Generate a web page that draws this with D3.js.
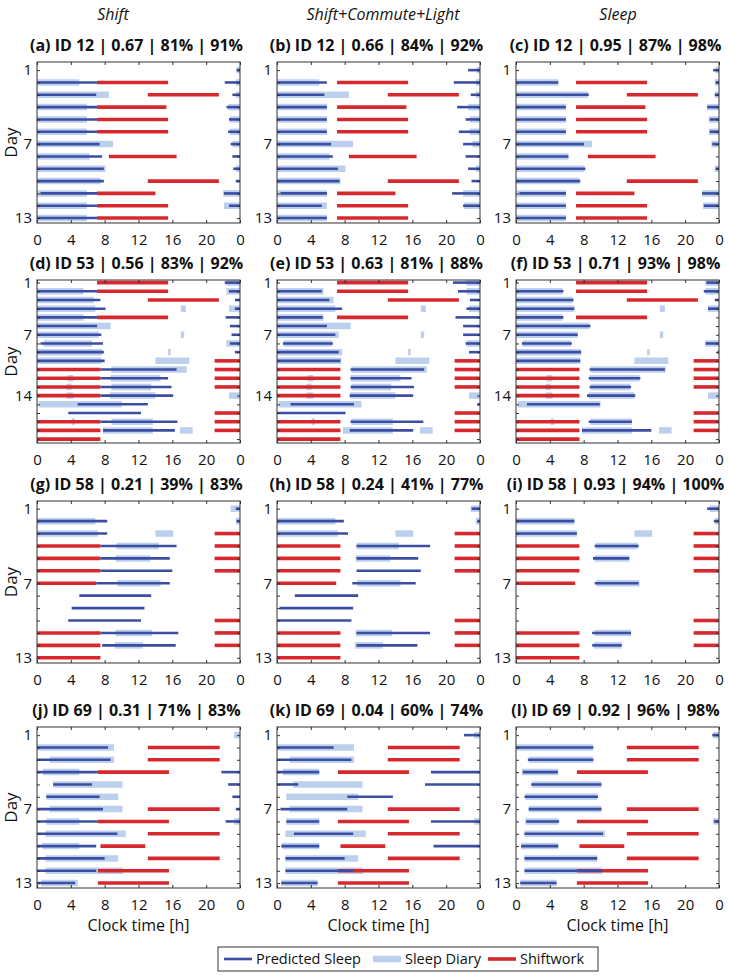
<!DOCTYPE html>
<html>
<head>
<meta charset="utf-8">
<script src="https://cdn.jsdelivr.net/npm/d3@7"></script>
<style>
body{margin:0;background:#fff;}
text{font-family:"Open Sans",Arial,sans-serif;fill:#111;}
</style>
</head>
<body>
<svg id="chart" width="729" height="979"></svg>
<script>
// sleep / shift intervals in clock hours, one entry per day
var diary12 = [
	[[23.6,24]], [[0,5.0],[23.5,24]], [[0,8.5],[23.5,24]], [[0,5.9],[22.6,24]],
	[[0,5.9],[22.8,24]], [[0,5.9],[22.8,24]], [[0,9.0],[23.1,24]], [[0,6.2]],
	[[0,8.1],[23.5,24]], [[0,7.5]], [[0,5.9],[22.0,24]], [[0,5.9],[22.1,24]], [[0,5.9]]
];
var shift12 = [
	[], [[7.1,15.5]], [[13.1,21.5]], [[7.1,15.3]], [[7.1,15.5]], [[7.1,15.5]], [],
	[[8.5,16.5]], [], [[13.1,21.5]], [[7.1,14.0]], [[7.1,15.5]], [[7.1,15.5]]
];
var predA = [
	[[23.6,24]], [[0,7.1],[22.2,24]], [[0,7.0],[23.1,24]], [[0,7.1],[22.4,24]],
	[[0,7.1],[22.7,24]], [[0,7.1],[22.6,24]], [[0,7.4],[22.9,24]], [[0,7.7],[23.1,24]],
	[[0,7.9],[23.2,24]], [[0,7.9],[23.5,24]], [[0.4,7.1],[22.1,24]], [[0,7.1],[22.7,24]], [[0,7.1]]
];
var predB = [
	[[22.6,24]], [[0,5.9],[20.9,24]], [[0,5.6],[22.9,24]], [[0,5.9],[21.3,24]],
	[[0,5.9],[22.3,24]], [[0,5.9],[21.5,24]], [[0,6.4],[22.0,24]], [[0,6.6],[22.3,24]],
	[[0,7.2],[22.6,24]], [[0,7.4],[23.0,24]], [[0.4,5.9],[20.7,24]], [[0,5.3],[22.0,24]], [[0,5.9]]
];
var predC = [
	[[23.3,24]], [[0,5.0],[23.6,24]], [[0,8.6],[23.5,24]], [[0,5.9],[22.6,24]],
	[[0,5.9],[22.9,24]], [[0,5.9],[22.9,24]], [[0,8.05],[23.2,24]], [[0,6.2]],
	[[0,8.2],[23.6,24]], [[0,7.6]], [[0.4,5.9],[22.0,24]], [[0,5.9],[22.2,24]], [[0,5.9]]
];

var diary53 = [
	[[22.4,24]], [[0,5.5],[22.4,24]], [[0,6.7]], [[0,6.9],[17.0,17.6],[22.7,24]],
	[[0,5.5]], [[0,8.7]], [[0,7.3],[17.0,17.4]], [[0.8,6.5],[22.4,24]],
	[[0,7.7],[15.5,15.8]], [[0,7.6],[14.0,18.0]], [[8.8,17.7]], [[3.6,4.3],[8.7,14.6]],
	[[3.5,4.1],[8.8,13.5]], [[3.5,4.3],[8.6,14.0],[22.7,24]], [[0.2,10.0]], [],
	[[4.1,4.5],[8.8,13.7]], [[7.8,13.7],[16.9,18.4]], []
];
var shift53 = [
	[[7.1,15.5]], [[7.1,15.5]], [[13.1,21.5]], [], [[7.1,15.5]], [], [], [], [],
	[[21,24]], [[0,7.5],[21,24]], [[0,7.5],[21,24]], [[0,7.5],[21,24]], [[0,7.5]], [],
	[[21,24]], [[0,7.5],[21,24]], [[0,7.5],[21,24]], [[0,7.5]]
];
var predD = [
	[[22.2,24]], [[0,7.1],[22.7,24]], [[0,7.5],[23.4,24]], [[0,8.1],[23.4,24]],
	[[0,7.1],[22.3,24]], [[0,7.1],[22.8,24]], [[0,7.6],[23.0,24]], [[0.4,7.8],[22.8,24]],
	[[0,7.9],[23.4,24]], [[0,8.0]], [[7.5,16.5]], [[7.5,15.5]], [[7.5,15.9]], [[7.5,16.1]],
	[[4.8,13.1]], [[3.7,12.3]], [[7.5,16.6]], [[7.8,16.3]], []
];
var predE = [
	[[20.8,24]], [[0,5.3],[21.4,24]], [[0,6.2],[22.8,24]], [[0,7.7],[22.4,24]],
	[[0,5.4],[21.1,24]], [[0,5.9],[22.0,24]], [[0,6.9],[22.0,24]], [[0.7,6.6],[22.3,24]],
	[[0,7.3],[22.7,24]], [[0,7.5]], [[8.7,17.4]], [[8.7,15.9]], [[8.7,16.2]], [[8.6,16.1]],
	[[1.6,9.1],[23.7,24]], [[0,8.1]], [[8.7,17.3]], [[8.6,16.1]], []
];
var predF = [
	[[22.5,24]], [[0,5.6],[22.2,24]], [[0,6.8],[23.5,24]], [[0,6.9],[22.7,24]],
	[[0,5.6]], [[0,8.8]], [[0,7.3]], [[0.7,6.6],[22.4,24]], [[0,7.7],[23.8,24]],
	[[0,7.6]], [[8.7,17.6]], [[8.6,14.7]], [[8.7,13.6]], [[8.4,14.1]], [[1.3,9.9]], [],
	[[8.6,13.7]], [[7.8,16.0]], []
];

var diary58 = [
	[[22.9,24]], [[0,6.9],[23.5,24]], [[0,7.2],[14.0,16.1]], [[9.4,14.4]], [[9.3,13.4]], [],
	[[9.5,14.6]], [], [], [], [[9.3,13.6]], [[9.2,12.5]], []
];
var shift58 = [
	[], [], [[21,24]], [[0,7.5],[21,24]], [[0,7.5],[21,24]], [[0,7.5],[21,24]], [[0,7.0]],
	[], [], [[21,24]], [[0,7.5],[21,24]], [[0,7.5],[21,24]], [[0,7.5]]
];
var predG = [
	[[23.5,24]], [[0,8.3],[23.6,24]], [[0,8.3]], [[7.5,16.5]], [[7.5,15.7]], [[7.5,16.0]],
	[[7.0,15.7]], [[5.0,13.5]], [[4.1,12.7]], [[3.7,12.3]], [[7.5,16.7]], [[7.7,16.4]], []
];
var predH = [
	[[23.0,24]], [[0,7.9],[23.7,24]], [[0,8.4]], [[9.4,18.1]], [[9.4,16.7]], [[9.4,17.0]],
	[[8.9,16.4]], [[2.1,9.6]], [[0.3,9.0]], [[0,8.8]], [[9.4,18.1]], [[9.4,16.6]], []
];
var predI = [
	[[22.6,24]], [[0,6.9],[23.4,24]], [[0,7.2]], [[9.3,14.5]], [[9.1,13.4]], [],
	[[9.3,14.5]], [], [], [], [[9.0,13.6]], [[9.0,12.5]], []
];

var diary69 = [
	[[23.3,24]], [[0,9.1]], [[1.5,9.1]], [[0.7,5.0]], [[1.9,10.1]], [[1.1,9.6]],
	[[1.5,10.1]], [[1.1,5.0],[23.3,24]], [[1.0,10.5]], [[0.6,5.0]], [[1.0,9.6]],
	[[1.0,10.2]], [[0.5,4.8]]
];
var shift69 = [
	[], [[13.1,21.6]], [[13.1,21.6]], [[7.2,15.6]], [], [], [[13.1,21.6]], [[7.2,15.6]],
	[[13.1,21.6]], [[7.5,12.8]], [[13.1,21.6]], [[7.2,15.6]], [[7.2,15.6]]
];
var predJ = [
	[], [[0,8.4]], [[0,8.7]], [[0,7.2],[21.8,24]], [[1.9,6.5],[22.6,24]], [[1.1,7.4],[23.1,24]],
	[[0,7.8],[23.5,24]], [[0,7.2],[22.3,24]], [[0,9.5]], [[0,7.0]], [[0,8.0]], [[0,7.0]], [[0,4.5]]
];
var predK = [
	[[22.1,24]], [[0,6.7]], [[0,8.8]], [[0,5.0],[18.2,24]], [[0,2.5],[17.5,24]], [[8.3,13.7]],
	[[0.4,8.3]], [[1.1,5.0],[18.2,24]], [[2.0,9.0]], [[0.5,5.0],[18.5,24]], [[1.0,8.0]],
	[[1.0,9.0]], [[0.5,4.8]]
];
var predL = [
	[[23.2,24]], [[0,9.15]], [[1.4,9.15]], [[0.8,4.95]], [[1.8,10.1]], [[1.0,9.7]],
	[[1.5,10.1]], [[1.2,5.1],[23.4,24]], [[1.0,10.3]], [[0.6,5.0]], [[1.0,9.6]],
	[[1.0,10.2]], [[0.5,4.8]]
];

var panelLabels = ['(a)','(b)','(c)','(d)','(e)','(f)','(g)','(h)','(i)','(j)','(k)','(l)'];
var subjectIds = [12, 53, 58, 69];
var corrValues = ['0.67','0.66','0.95','0.56','0.63','0.71','0.21','0.24','0.93','0.31','0.04','0.92'];
var accValues = ['81%','84%','87%','83%','81%','93%','39%','41%','94%','71%','60%','96%'];
var acc2Values = ['91%','92%','98%','92%','88%','98%','83%','77%','100%','83%','74%','98%'];
var modelNames = ['Shift', 'Shift+Commute+Light', 'Sleep'];
var dayLabels = [[1,7,13],[1,7,14],[1,7,13],[1,7,13]];
var hourTicks = [0,4,8,12,16,20,24];
var legendNames = ['Predicted Sleep', 'Sleep Diary', 'Shiftwork'];

var predAll = [predA,predB,predC,predD,predE,predF,predG,predH,predI,predJ,predK,predL],
	diaryAll = [diary12, diary53, diary58, diary69],
	shiftAll = [shift12, shift53, shift58, shift69];

var colLeft = [37, 277, 516],
	plotW = 203,
	rowTop = [62, 280, 501, 727],
	rowBottom = [223, 443, 663, 888],
	padTop = [0.66, 0.3, 0.62, 0.66],
	padBot = [0.4, 0.45, 0.42, 0.4],
	colTitleX = [113, 383, 618],
	colors = {pred:'#3b4ea3', diary:'#bccfec', shift:'#d7282d'};

var svg = d3.select('#chart');

svg.selectAll('.model')
	.data(modelNames)
	.enter()
	.append('text')
	.attr('x', function(d,i){ return colTitleX[i]; })
	.attr('y', 20)
	.attr('text-anchor','middle')
	.style('font-size','16px')
	.style('font-style','italic')
	.text(function(d){ return d; });

function segments(list){
	var out = [];
	list.forEach(function(day, i){
		day.forEach(function(iv){
			out.push({day:i+1, a:iv[0], b:iv[1]});
		});
	});
	return out;
}

function drawPanel(k){
	var row = Math.floor(k/3), col = k%3,
		pred = predAll[k], diary = diaryAll[row], shift = shiftAll[row],
		n = diary.length,
		left = colLeft[col], right = left + plotW,
		top = rowTop[row], bottom = rowBottom[row];

	var x = d3.scaleLinear().domain([0,24]).range([left, right]),
		y = d3.scaleLinear().domain([1 - padTop[row], n + padBot[row]]).range([top, bottom]);

	var g = svg.append('g');

	g.append('clipPath').attr('id','clip'+k)
		.append('rect').attr('x',left).attr('y',top).attr('width',plotW).attr('height',bottom-top);

	var marks = g.append('g').attr('clip-path','url(#clip'+k+')');

	function layer(data, color, width){
		marks.append('g').selectAll('line')
			.data(segments(data))
			.enter()
			.append('line')
			.attr('x1', function(d){ return x(d.a); })
			.attr('x2', function(d){ return x(d.b); })
			.attr('y1', function(d){ return y(d.day); })
			.attr('y2', function(d){ return y(d.day); })
			.attr('stroke', color)
			.attr('stroke-width', width);
	}
	layer(diary, colors.diary, 6.5);
	layer(shift, colors.shift, 3.6);
	layer(pred, colors.pred, 2.6);

	var days = d3.range(1, n+1),
		labelled = dayLabels[row];

	var axL = g.append('g').attr('transform','translate('+left+',0)')
		.call(d3.axisLeft(y).tickValues(days).tickSizeInner(-3).tickSizeOuter(0).tickPadding(5)
			.tickFormat(function(d){ return labelled.indexOf(d) >= 0 ? d : ''; }));
	var axR = g.append('g').attr('transform','translate('+right+',0)')
		.call(d3.axisRight(y).tickValues(days).tickSizeInner(-3).tickSizeOuter(0).tickFormat(''));
	var axT = g.append('g').attr('transform','translate(0,'+top+')')
		.call(d3.axisTop(x).tickValues(hourTicks).tickSizeInner(-3).tickSizeOuter(0).tickFormat(''));
	var axB = g.append('g').attr('transform','translate(0,'+bottom+')')
		.call(d3.axisBottom(x).tickValues(hourTicks).tickSizeInner(-3).tickSizeOuter(0).tickPadding(11)
			.tickFormat(function(d){ return d % 24; }));

	[axL, axR, axT, axB].forEach(function(a){
		a.select('.domain').remove();
		a.selectAll('line').attr('stroke','#333');
		a.selectAll('text').style('font-size','15px').style('font-family','"Open Sans",Arial,sans-serif').attr('fill','#111');
	});

	g.append('rect')
		.attr('x', left).attr('y', top)
		.attr('width', plotW).attr('height', bottom - top)
		.attr('fill','none').attr('stroke','#333').attr('stroke-width',1);

	g.append('text')
		.attr('x', (left + right)/2 - 2)
		.attr('y', top - 11)
		.attr('text-anchor','middle')
		.style('font-size','16px')
		.style('font-weight','bold')
		.text(panelLabels[k] + ' ID ' + subjectIds[row] + ' | ' + corrValues[k] + ' | ' + accValues[k] + ' | ' + acc2Values[k]);

	if (col == 0) {
		g.append('text')
			.attr('transform','translate(17,' + (top + bottom)/2 + ') rotate(-90)')
			.attr('text-anchor','middle')
			.style('font-size','17px')
			.text('Day');
	}
	if (row == 3) {
		g.append('text')
			.attr('x', (left + right)/2)
			.attr('y', bottom + 43)
			.attr('text-anchor','middle')
			.style('font-size','16px')
			.text('Clock time [h]');
	}
}

d3.range(12).forEach(drawPanel);

// legend
var legendX = [224, 373, 488],
	legendColors = [colors.pred, colors.diary, colors.shift],
	legendWidths = [2.6, 6.5, 3.6],
	legY = 959;

var legend = svg.append('g');
legend.append('rect')
	.attr('x',218).attr('y',legY-12).attr('width',380).attr('height',24)
	.attr('fill','#fff').attr('stroke','#333');
var items = legend.selectAll('.item')
	.data(legendNames)
	.enter()
	.append('g');
items.append('line')
	.attr('x1', function(d,i){ return legendX[i]; })
	.attr('x2', function(d,i){ return legendX[i] + 28; })
	.attr('y1', legY).attr('y2', legY)
	.attr('stroke', function(d,i){ return legendColors[i]; })
	.attr('stroke-width', function(d,i){ return legendWidths[i]; });
items.append('text')
	.attr('x', function(d,i){ return legendX[i] + 32; })
	.attr('y', legY + 5)
	.style('font-size','14.5px')
	.text(function(d){ return d; });
</script>
</body>
</html>
